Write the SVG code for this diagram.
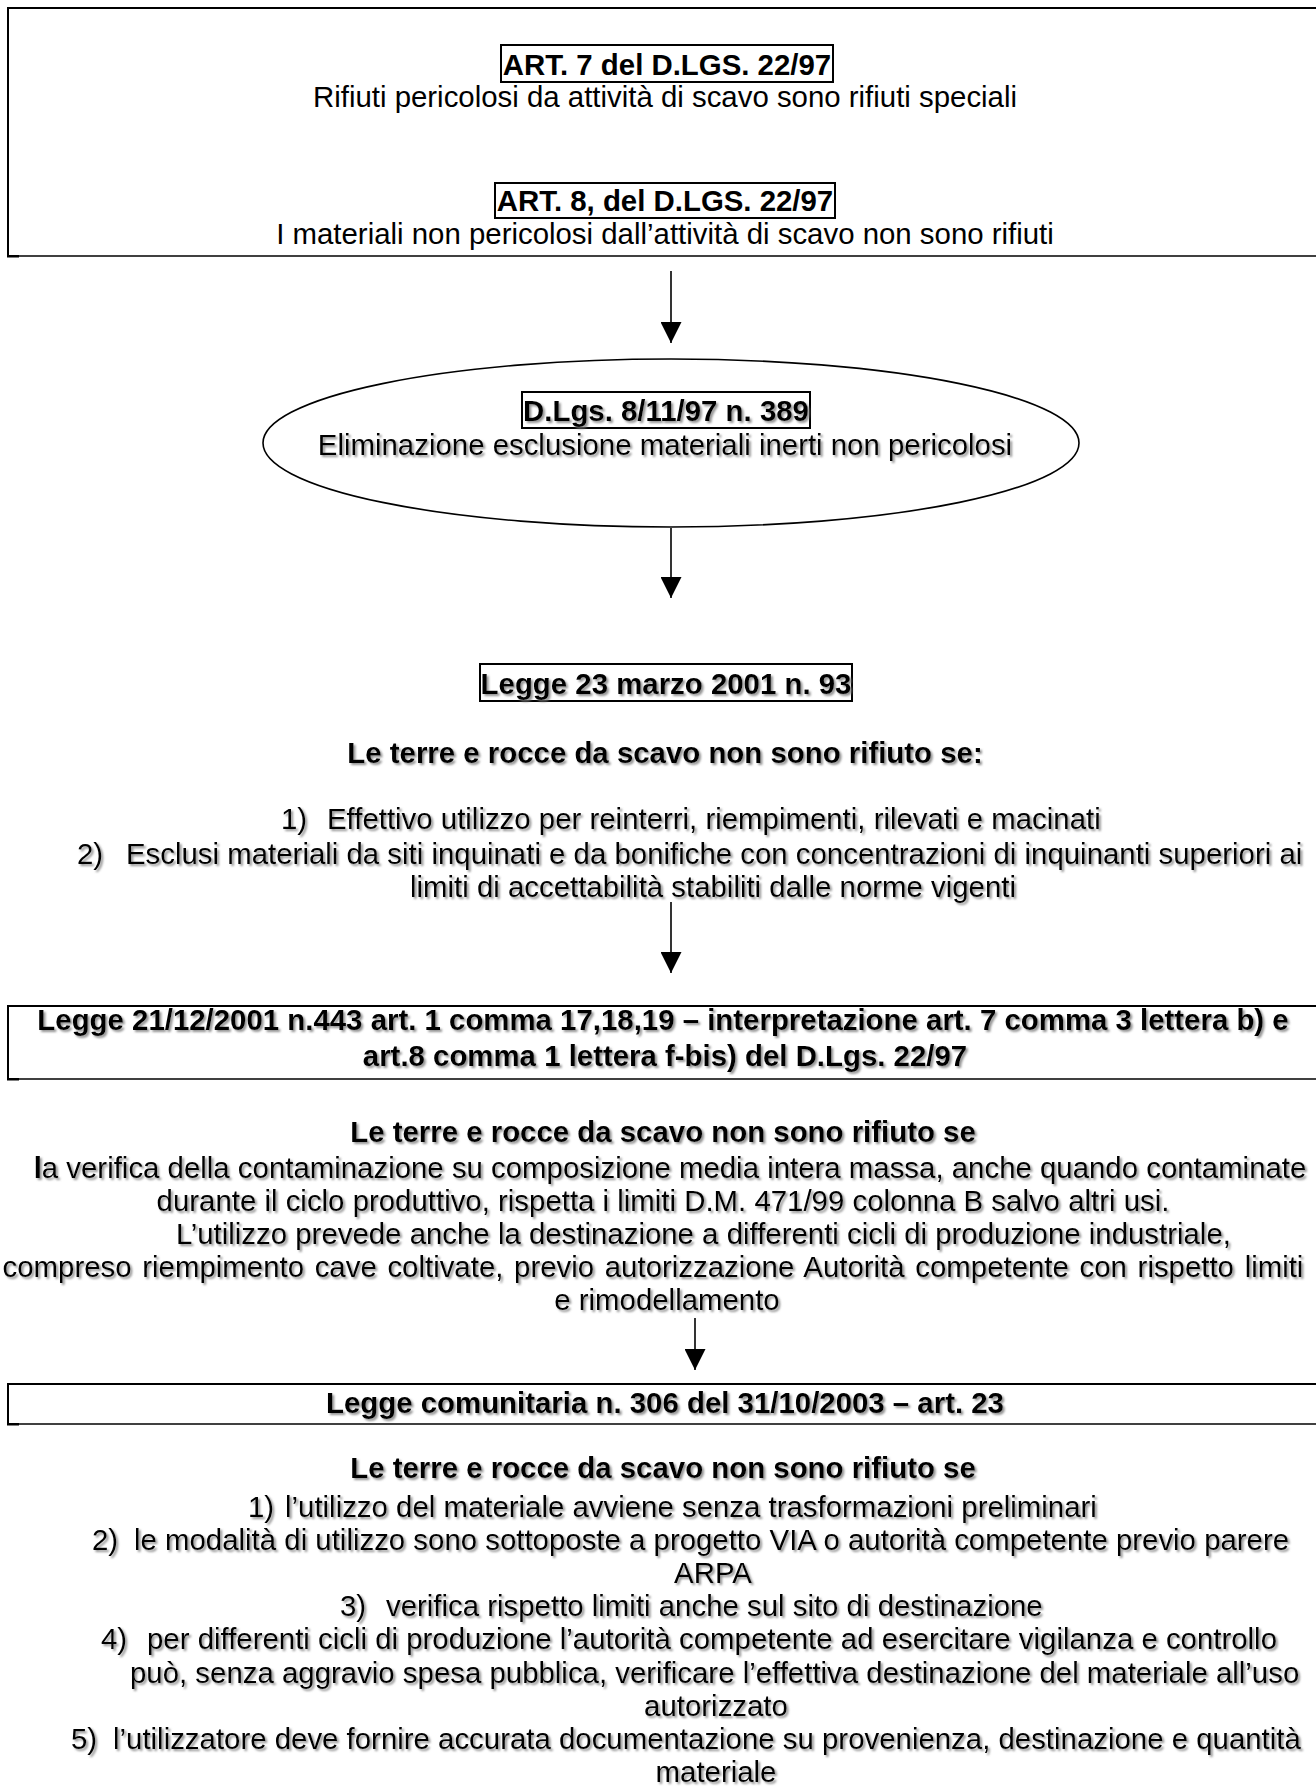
<svg xmlns="http://www.w3.org/2000/svg" width="1316" height="1791" viewBox="0 0 1316 1791">
<style>
text{font-family:"Liberation Sans",Arial,sans-serif;font-size:29.4px;fill:#000}
.b{font-weight:bold}
.c{text-anchor:middle}
.box{fill:none;stroke:#000;stroke-width:2}
.bot{fill:none;stroke:#000;stroke-width:1.3}
.tb{fill:none;stroke:#000;stroke-width:2}
.sh{filter:url(#shadow)}
.conn line{stroke:#000;stroke-width:1.6;marker-end:url(#ah)}
</style>
<defs>
<filter id="shadow" x="-5%" y="-30%" width="110%" height="160%">
<feDropShadow dx="2" dy="2" stdDeviation="0.8" flood-color="#777" flood-opacity="0.8"/>
</filter>
<marker id="ah" markerWidth="21" markerHeight="21" refX="21" refY="10.5" orient="auto" markerUnits="userSpaceOnUse">
<path d="M0,0 L21,10.5 L0,21 Z" fill="#000"/>
</marker>
</defs>
<rect width="1316" height="1791" fill="#fff"/>

<g id="node-dlgs22">
<path class="box" d="M1316,8 H8 V257"/>
<path class="bot" d="M8,256 H1316"/>
<rect x="7" y="255" width="12" height="2.5" fill="#000"/>
<rect class="tb" x="501" y="45" width="332" height="37"/>
<text class="b c" x="667" y="75">ART. 7 del D.LGS. 22/97</text>
<text class="c" x="665" y="107">Rifiuti pericolosi da attività di scavo sono rifiuti speciali</text>
<rect class="tb" x="495" y="183" width="340" height="35"/>
<text class="b c" x="665" y="211">ART. 8, del D.LGS. 22/97</text>
<text class="c" x="665" y="244">I materiali non pericolosi dall’attività di scavo non sono rifiuti</text>
</g>

<g id="node-dlgs389">
<ellipse cx="671" cy="443" rx="408" ry="84" fill="none" stroke="#000" stroke-width="1.6"/>
<rect class="tb" x="522" y="392" width="288" height="36"/>
<text class="b c sh" x="666" y="421">D.Lgs. 8/11/97 n. 389</text>
<text class="c sh" x="665" y="455">Eliminazione esclusione materiali inerti non pericolosi</text>
</g>

<g id="node-legge93">
<rect class="tb" x="480" y="664" width="372" height="37"/>
<text class="b c sh" x="666" y="694">Legge 23 marzo 2001 n. 93</text>
<text class="b c sh" x="665" y="763">Le terre e rocce da scavo non sono rifiuto se:</text>
<text class="sh" y="829"><tspan x="281">1)</tspan><tspan x="327">Effettivo utilizzo per reinterri, riempimenti, rilevati e macinati</tspan></text>
<text class="sh" y="864"><tspan x="77">2)</tspan><tspan x="126">Esclusi materiali da siti inquinati e da bonifiche con concentrazioni di inquinanti superiori ai</tspan></text>
<text class="c sh" x="713" y="897">limiti di accettabilità stabiliti dalle norme vigenti</text>
</g>

<g id="node-legge443">
<path class="box" d="M1316,1006 H8 V1080"/>
<path class="bot" d="M8,1079 H1316"/>
<rect x="7" y="1078" width="12" height="2.5" fill="#000"/>
<text class="b c sh" x="663" y="1030">Legge 21/12/2001 n.443 art. 1 comma 17,18,19 – interpretazione art. 7 comma 3 lettera b) e</text>
<text class="b c sh" x="665" y="1066">art.8 comma 1 lettera f-bis) del D.Lgs. 22/97</text>
<text class="b c sh" x="663" y="1142">Le terre e rocce da scavo non sono rifiuto se</text>
<text class="c sh" x="670" y="1178"><tspan class="b">l</tspan>a verifica della contaminazione su composizione media intera massa, anche quando contaminate</text>
<text class="c sh" x="663" y="1211">durante il ciclo produttivo, rispetta i limiti D.M. 471/99 colonna B salvo altri usi.</text>
<text class="sh" x="176" y="1244">L’utilizzo prevede anche la destinazione a differenti cicli di produzione industriale,</text>
<text class="c sh" x="653" y="1277" word-spacing="2.5">compreso riempimento cave coltivate, previo autorizzazione Autorità competente con rispetto limiti</text>
<text class="c sh" x="667" y="1310">e rimodellamento</text>
</g>

<g id="node-legge306">
<path class="box" d="M1316,1384 H8 V1425"/>
<path class="bot" d="M8,1424 H1316"/>
<rect x="7" y="1423" width="12" height="2.5" fill="#000"/>
<text class="b c sh" x="665" y="1413">Legge comunitaria n. 306 del 31/10/2003 – art. 23</text>
<text class="b c sh" x="663" y="1478">Le terre e rocce da scavo non sono rifiuto se</text>
<text class="sh" y="1517"><tspan x="248">1)</tspan><tspan x="285">l’utilizzo del materiale avviene senza trasformazioni preliminari</tspan></text>
<text class="sh" y="1550"><tspan x="92">2)</tspan><tspan x="134">le modalità di utilizzo sono sottoposte a progetto VIA o autorità competente previo parere</tspan></text>
<text class="c sh" x="713" y="1583">ARPA</text>
<text class="sh" y="1616"><tspan x="340">3)</tspan><tspan x="386">verifica rispetto limiti anche sul sito di destinazione</tspan></text>
<text class="sh" y="1649"><tspan x="101">4)</tspan><tspan x="147">per differenti cicli di produzione l’autorità competente ad esercitare vigilanza e controllo</tspan></text>
<text class="sh" x="130" y="1683">può, senza aggravio spesa pubblica, verificare l’effettiva destinazione del materiale all’uso</text>
<text class="c sh" x="716" y="1716">autorizzato</text>
<text class="sh" y="1749"><tspan x="71">5)</tspan><tspan x="113">l’utilizzatore deve fornire accurata documentazione su provenienza, destinazione e quantità</tspan></text>
<text class="c sh" x="716" y="1782">materiale</text>
</g>

<g id="connectors" class="conn">
<line x1="671" y1="271" x2="671" y2="343"/>
<line x1="671" y1="528" x2="671" y2="598"/>
<line x1="671" y1="902" x2="671" y2="973"/>
<line x1="695" y1="1318" x2="695" y2="1370"/>
</g>
</svg>
